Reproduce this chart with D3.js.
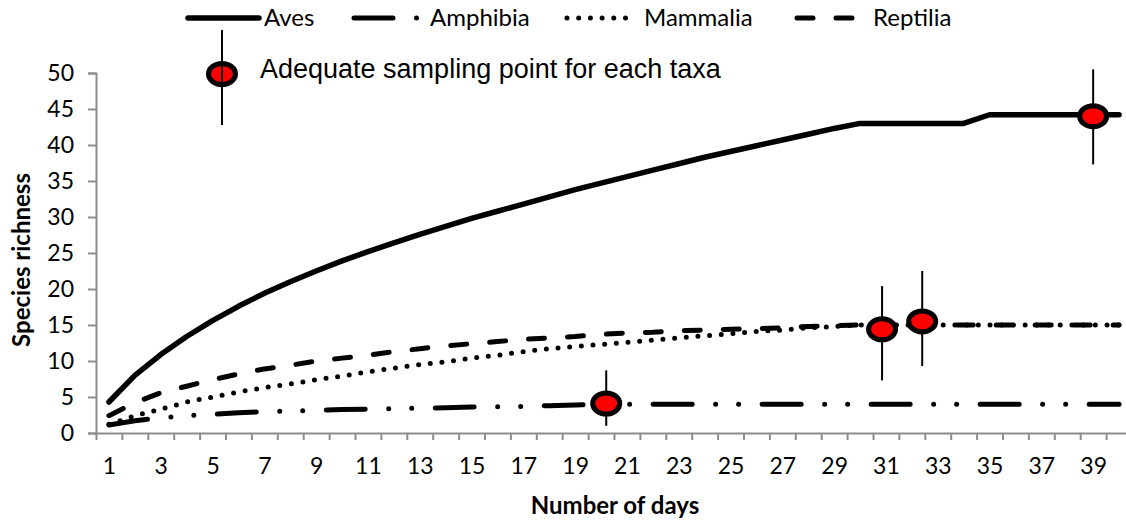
<!DOCTYPE html>
<html>
<head>
<meta charset="utf-8">
<script src="https://cdn.jsdelivr.net/npm/d3@7"></script>
<style>
  body { margin: 0; background: #fff; }
  svg { display: block; }
</style>
</head>
<body>
<svg id="chart" width="1126" height="522"></svg>
<script>
var days = [1, 2, 3, 4, 5, 6, 7, 8, 9, 10, 11, 12, 13, 14, 15, 16, 17, 18, 19, 20,
            21, 22, 23, 24, 25, 26, 27, 28, 29, 30, 31, 32, 33, 34, 35, 36, 37, 38, 39, 40];

var aves = [4.3, 8.0, 10.9, 13.4, 15.6, 17.6, 19.4, 21.0, 22.5, 23.9,
            25.2, 26.4, 27.6, 28.7, 29.8, 30.8, 31.8, 32.8, 33.8, 34.7,
            35.6, 36.5, 37.4, 38.3, 39.1, 39.9, 40.7, 41.5, 42.3, 43,
            43, 43, 43, 43, 44.2, 44.2, 44.2, 44.2, 44.2, 44.2];
var amphibia = [1.1, 1.7, 2.1, 2.4, 2.6, 2.8, 2.95, 3.05, 3.15, 3.25,
                3.3, 3.4, 3.45, 3.5, 3.6, 3.65, 3.7, 3.8, 3.9, 4.0,
                4, 4, 4, 4, 4, 4, 4, 4, 4, 4,
                4, 4, 4, 4, 4, 4, 4, 4, 4, 4];
var mammalia = [1.2, 2.4, 3.3, 4.3, 5.0, 5.7, 6.3, 6.8, 7.4, 7.9,
                8.5, 9.0, 9.5, 9.9, 10.4, 10.8, 11.3, 11.7, 12.0, 12.3,
                12.6, 12.9, 13.2, 13.5, 13.8, 14.1, 14.3, 14.6, 14.8, 15,
                15, 15, 15, 15, 15, 15, 15, 15, 15, 15];
var reptilia = [2.4, 4.2, 5.6, 6.5, 7.4, 8.2, 8.9, 9.4, 10.0, 10.4,
                10.8, 11.3, 11.7, 12.1, 12.4, 12.7, 13.0, 13.2, 13.4, 13.7,
                13.9, 14.0, 14.2, 14.3, 14.4, 14.5, 14.6, 14.8, 14.9, 15,
                15, 15, 15, 15, 15, 15, 15, 15, 15, 15];

// adequate sampling points (day, value, error bar low / high)
var pointDays = [20.2, 30.85, 32.4, 39];
var pointValues = [4.1, 14.4, 15.5, 44];
var pointLow = [1.0, 7.3, 9.3, 37.3];
var pointHigh = [8.7, 20.4, 22.5, 50.5];

var yTicks = [0, 5, 10, 15, 20, 25, 30, 35, 40, 45, 50];
var xLabels = [1, 3, 5, 7, 9, 11, 13, 15, 17, 19, 21, 23, 25, 27, 29, 31, 33, 35, 37, 39];

var seriesNames = ['Aves', 'Amphibia', 'Mammalia', 'Reptilia'];

var svg = d3.select('#chart');
var plotLeft = 96, plotRight = 1132, plotTop = 73, plotBottom = 433;
var axisColor = '#8c8c8c';
var tickFont = 'Lato, "Open Sans", sans-serif';

var x = d3.scaleLinear().domain([0.5, 40.5]).range([plotLeft, plotRight]);
var y = d3.scaleLinear().domain([0, 50]).range([plotBottom, plotTop]);

// y axis
var yAxis = svg.append('g')
    .attr('transform', 'translate(' + plotLeft + ',0)')
    .call(d3.axisLeft(y).tickValues(yTicks).tickSize(8).tickPadding(14));
yAxis.select('.domain').attr('stroke', axisColor).attr('stroke-width', 2);
yAxis.selectAll('.tick line').attr('stroke', axisColor).attr('stroke-width', 2);
yAxis.selectAll('.tick text')
    .attr('font-family', tickFont).attr('font-size', 23).attr('fill', '#000');

// x axis: ticks between categories, labels on odd days
var boundaries = days.map(function(d) { return d - 0.5; }).concat([40.5]);
var xAxis = svg.append('g')
    .attr('transform', 'translate(0,' + plotBottom + ')')
    .call(d3.axisBottom(x).tickValues(boundaries).tickSize(7).tickFormat('').tickSizeOuter(0));
xAxis.select('.domain').attr('stroke', axisColor).attr('stroke-width', 2);
xAxis.selectAll('.tick line').attr('stroke', axisColor).attr('stroke-width', 2);

var xLab = svg.append('g')
    .attr('transform', 'translate(0,' + plotBottom + ')')
    .call(d3.axisBottom(x).tickValues(xLabels).tickSize(0).tickPadding(25).tickFormat(d3.format('d')));
xLab.select('.domain').remove();
xLab.selectAll('.tick text')
    .attr('font-family', tickFont).attr('font-size', 23).attr('fill', '#000');

// axis titles
svg.append('text')
    .attr('x', 615).attr('y', 514)
    .attr('text-anchor', 'middle')
    .attr('font-family', tickFont).attr('font-weight', 'bold').attr('font-size', 24)
    .text('Number of days');
svg.append('text')
    .attr('transform', 'translate(30,260) rotate(-90)')
    .attr('text-anchor', 'middle')
    .attr('font-family', tickFont).attr('font-weight', 'bold').attr('font-size', 24)
    .text('Species richness');

// series lines
var styles = {
    Aves: { dash: null, width: 5.5 },
    Amphibia: { dash: '39 23.5 0 23 0 23.5', width: 5 },
    Mammalia: { dash: '0 11.7', width: 5 },
    Reptilia: { dash: '16 23', width: 5 }
};
var seriesData = [aves, amphibia, mammalia, reptilia];

var line = d3.line()
    .x(function(d, i) { return x(days[i]); })
    .y(function(d) { return y(d); })
    .curve(d3.curveLinear);

seriesData.forEach(function(values, k) {
    var st = styles[seriesNames[k]];
    svg.append('path')
        .datum(values)
        .attr('d', line)
        .attr('fill', 'none')
        .attr('stroke', '#000')
        .attr('stroke-width', st.width)
        .attr('stroke-linecap', 'round')
        .attr('stroke-linejoin', 'round')
        .attr('stroke-dasharray', st.dash);
});

// adequate sampling markers
var marks = svg.append('g');
pointDays.forEach(function(d, i) {
    marks.append('line')
        .attr('x1', x(d)).attr('x2', x(d))
        .attr('y1', y(pointHigh[i])).attr('y2', y(pointLow[i]))
        .attr('stroke', '#000').attr('stroke-width', 2);
    marks.append('ellipse')
        .attr('cx', x(d)).attr('cy', y(pointValues[i]))
        .attr('rx', 13.5).attr('ry', 10.5)
        .attr('fill', '#ff0000').attr('stroke', '#000').attr('stroke-width', 5);
});

// legend, first row
var legend = svg.append('g');
var legendFont = 'Lato, "Open Sans", sans-serif';
var legendItems = [
    { name: 'Aves', x1: 188, x2: 259, tx: 264 },
    { name: 'Amphibia', x1: 354, x2: 420, tx: 430 },
    { name: 'Mammalia', x1: 567, x2: 628, tx: 644 },
    { name: 'Reptilia', x1: 797, x2: 858, tx: 873 }
];
legendItems.forEach(function(it) {
    var st = styles[it.name];
    legend.append('line')
        .attr('x1', it.x1).attr('x2', it.x2)
        .attr('y1', 18).attr('y2', 18)
        .attr('stroke', '#000').attr('stroke-width', st.width)
        .attr('stroke-linecap', 'round')
        .attr('stroke-dasharray', st.dash);
    legend.append('text')
        .attr('x', it.tx).attr('y', 26)
        .attr('font-family', legendFont).attr('font-size', 24)
        .text(it.name);
});

// legend, marker row
legend.append('ellipse')
    .attr('cx', 222).attr('cy', 74)
    .attr('rx', 13.5).attr('ry', 10.5)
    .attr('fill', '#ff0000').attr('stroke', '#000').attr('stroke-width', 5);
legend.append('line')
    .attr('x1', 222).attr('x2', 222)
    .attr('y1', 30).attr('y2', 125)
    .attr('stroke', '#000').attr('stroke-width', 2);
legend.append('text')
    .attr('x', 260).attr('y', 78)
    .attr('font-family', '"Liberation Sans", Arial, sans-serif').attr('font-size', 27)
    .text('Adequate sampling point for each taxa');
</script>
</body>
</html>
